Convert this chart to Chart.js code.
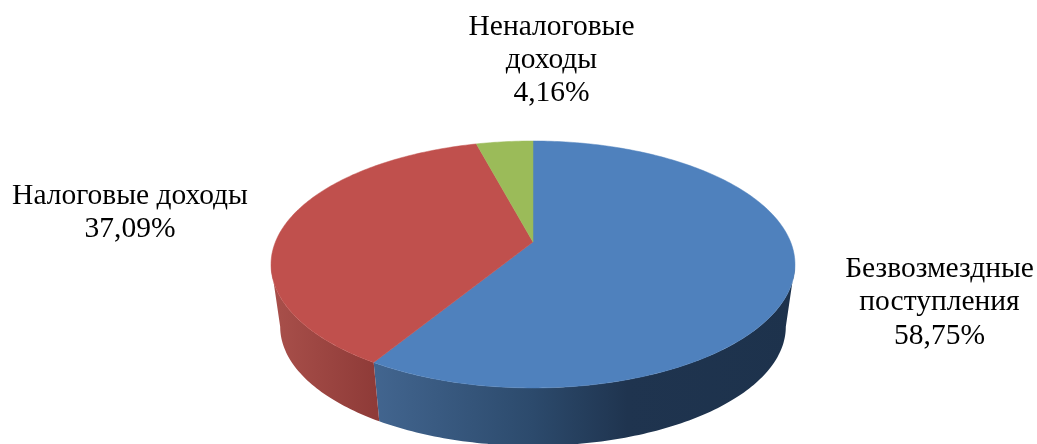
<!DOCTYPE html>
<html lang="ru">
<head>
<meta charset="utf-8">
<title>Структура доходов</title>
<script src="https://cdn.jsdelivr.net/npm/chart.js@4/dist/chart.umd.min.js"></script>
<style>
  html, body { margin: 0; padding: 0; background: #fff; }
  canvas { display: block; }
</style>
</head>
<body>
<canvas id="pie" width="1037" height="444"></canvas>
<script>
const categories = [['Безвозмездные', 'поступления'], ['Налоговые доходы'], ['Неналоговые', 'доходы']];
const shares = [58.75, 37.09, 4.16];

const topColors = ['#4f81bd', '#c0504d', '#9bbb59'];
// side wall shading, left to right across the pie
const sideStops = [
  [[0.2, '#42658f'], [0.5, '#2c4a6c'], [0.68, '#1f344f'], [1, '#1d324c']],
  [[0, '#a9504b'], [0.2, '#8f3b38'], [1, '#8f3b38']],
  [[0, '#7a9444'], [1, '#7a9444']],
];

// where each label sits: centre x, first baseline, line step
const labelAnchors = [[939.5, 276.5, 33.8], [130, 204, 33], [551.5, 35, 33.2]];

// look of the tilted disc
const TILT = 0.4635;
const PERSPECTIVE = 0.182;
const DEPTH = 63;
const BOTTOM_SCALE = 0.965;
// the wall is only seen between these two angles (canvas angles, clockwise from 3 o'clock)
const FRONT_FROM = Math.asin(PERSPECTIVE);
const FRONT_TO = Math.PI - FRONT_FROM;

function project(arc, angle, scale, dy) {
  const u = Math.cos(angle), v = -Math.sin(angle);
  const w = 1 + PERSPECTIVE * v;
  return [
    arc.x + scale * arc.outerRadius * u / w,
    arc.y + dy - scale * arc.outerRadius * TILT * v / w,
  ];
}

function rimPoints(arc, from, to, scale, dy) {
  const pts = [];
  const steps = Math.max(8, Math.ceil((to - from) * 60));
  for (let i = 0; i <= steps; i++) {
    pts.push(project(arc, from + (to - from) * i / steps, scale, dy));
  }
  return pts;
}

function tracePath(ctx, pts) {
  ctx.beginPath();
  pts.forEach(([x, y], i) => (i ? ctx.lineTo(x, y) : ctx.moveTo(x, y)));
  ctx.closePath();
}

const tiltedPie = {
  id: 'tiltedPie',
  beforeDatasetDraw(chart, args) {
    const { ctx } = chart;
    const arcs = chart.getDatasetMeta(args.index).data;

    arcs.forEach((arc, i) => {
      const from = Math.max(arc.startAngle, FRONT_FROM);
      const to = Math.min(arc.endAngle, FRONT_TO);
      if (to <= from) return;
      const left = arc.x - arc.outerRadius * 1.02;
      const right = arc.x + arc.outerRadius * 1.02;
      const grad = ctx.createLinearGradient(left, 0, right, 0);
      sideStops[i].forEach(([p, c]) => grad.addColorStop(p, c));
      const top = rimPoints(arc, from, to, 1, 0);
      const bottom = rimPoints(arc, from, to, BOTTOM_SCALE, DEPTH).reverse();
      tracePath(ctx, top.concat(bottom));
      ctx.fillStyle = grad;
      ctx.fill();
    });

    arcs.forEach((arc, i) => {
      tracePath(ctx, [[arc.x, arc.y], ...rimPoints(arc, arc.startAngle, arc.endAngle, 1, 0)]);
      ctx.fillStyle = topColors[i];
      ctx.strokeStyle = topColors[i];
      ctx.lineWidth = 0.5;
      ctx.fill();
      ctx.stroke();
    });
    return false;
  },
  afterDatasetsDraw(chart) {
    const { ctx } = chart;
    ctx.save();
    ctx.font = '29.5px "Liberation Serif"';
    ctx.fillStyle = '#000';
    ctx.textAlign = 'center';
    ctx.textBaseline = 'alphabetic';
    categories.forEach((lines, i) => {
      const pct = shares[i].toFixed(2).replace('.', ',') + '%';
      const [x, y, step] = labelAnchors[i];
      [...lines, pct].forEach((t, n) => ctx.fillText(t, x, y + n * step));
    });
    ctx.restore();
  },
};

new Chart(document.getElementById('pie'), {
  type: 'pie',
  data: {
    labels: categories.map(l => l.join(' ')),
    datasets: [{ data: shares, backgroundColor: topColors, borderWidth: 0, radius: 257.6 }],
  },
  options: {
    responsive: false,
    animation: false,
    layout: { padding: { left: 29, top: 40 } },
    plugins: { legend: { display: false }, tooltip: { enabled: false } },
  },
  plugins: [tiltedPie],
});
</script>
</body>
</html>
